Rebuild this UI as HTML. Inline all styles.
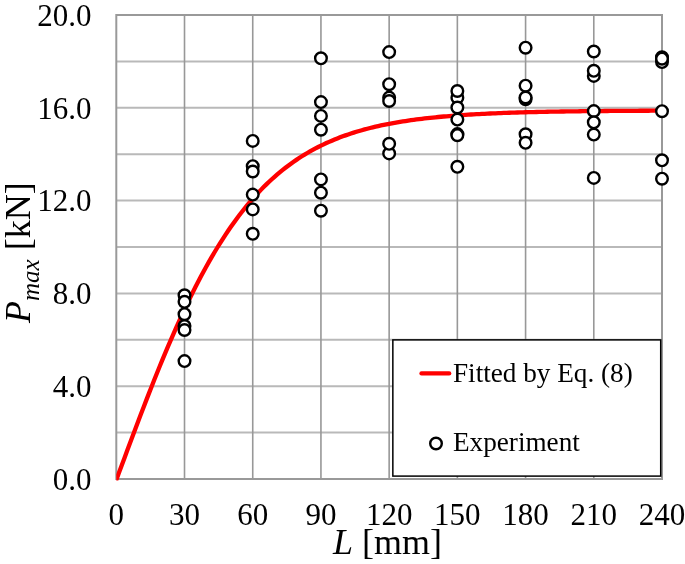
<!DOCTYPE html>
<html><head><meta charset="utf-8"><style>
html,body{margin:0;padding:0;background:#fff;width:685px;height:564px;overflow:hidden}
svg{display:block}
</style></head><body>
<svg width="685" height="564" viewBox="0 0 685 564">
<style>text{font-family:"Liberation Serif",serif}</style>
<rect width="685" height="564" fill="#fff"/>
<path d="M116.3 432.60H662.0 M116.3 386.20H662.0 M116.3 339.80H662.0 M116.3 293.40H662.0 M116.3 247.00H662.0 M116.3 200.60H662.0 M116.3 154.20H662.0 M116.3 107.80H662.0 M116.3 61.40H662.0" stroke="#b9b9b9" stroke-width="2" fill="none"/>
<path d="M184.51 15.0V479.0 M252.73 15.0V479.0 M320.94 15.0V479.0 M389.15 15.0V479.0 M457.36 15.0V479.0 M525.58 15.0V479.0 M593.79 15.0V479.0" stroke="#989898" stroke-width="1.6" fill="none"/>
<rect x="116.3" y="15.0" width="545.7" height="464.0" fill="none" stroke="#999999" stroke-width="2"/>
<defs><clipPath id="pc"><rect x="116.3" y="10" width="545.7" height="470.4"/></clipPath></defs>
<polyline clip-path="url(#pc)" points="116.30,480.00 119.03,472.62 121.76,465.25 124.49,457.89 127.21,450.55 129.94,443.23 132.67,435.94 135.40,428.68 138.13,421.46 140.86,414.29 143.59,407.17 146.31,400.11 149.04,393.11 151.77,386.17 154.50,379.30 157.23,372.51 159.96,365.79 162.68,359.16 165.41,352.61 168.14,346.16 170.87,339.79 173.60,333.52 176.33,327.35 179.06,321.28 181.78,315.32 184.51,309.45 187.24,303.70 189.97,298.05 192.70,292.52 195.43,287.09 198.16,281.78 200.88,276.58 203.61,271.49 206.34,266.52 209.07,261.66 211.80,256.91 214.53,252.28 217.25,247.76 219.98,243.35 222.71,239.05 225.44,234.86 228.17,230.79 230.90,226.82 233.63,222.95 236.35,219.20 239.08,215.54 241.81,211.99 244.54,208.55 247.27,205.20 250.00,201.95 252.73,198.79 255.45,195.73 258.18,192.76 260.91,189.89 263.64,187.10 266.37,184.40 269.10,181.78 271.82,179.25 274.55,176.80 277.28,174.42 280.01,172.13 282.74,169.91 285.47,167.76 288.20,165.68 290.92,163.67 293.65,161.73 296.38,159.86 299.11,158.05 301.84,156.30 304.57,154.61 307.30,152.98 310.02,151.41 312.75,149.89 315.48,148.42 318.21,147.01 320.94,145.65 323.67,144.33 326.39,143.06 329.12,141.84 331.85,140.66 334.58,139.52 337.31,138.43 340.04,137.37 342.77,136.35 345.49,135.37 348.22,134.43 350.95,133.52 353.68,132.64 356.41,131.79 359.14,130.98 361.87,130.20 364.59,129.44 367.32,128.72 370.05,128.02 372.78,127.35 375.51,126.70 378.24,126.07 380.96,125.47 383.69,124.90 386.42,124.34 389.15,123.81 391.88,123.29 394.61,122.80 397.34,122.32 400.06,121.86 402.79,121.42 405.52,121.00 408.25,120.59 410.98,120.19 413.71,119.82 416.44,119.45 419.16,119.10 421.89,118.77 424.62,118.45 427.35,118.13 430.08,117.84 432.81,117.55 435.53,117.27 438.26,117.01 440.99,116.75 443.72,116.51 446.45,116.27 449.18,116.04 451.91,115.82 454.63,115.61 457.36,115.41 460.09,115.22 462.82,115.03 465.55,114.85 468.28,114.68 471.01,114.51 473.73,114.35 476.46,114.20 479.19,114.05 481.92,113.91 484.65,113.78 487.38,113.65 490.10,113.52 492.83,113.40 495.56,113.28 498.29,113.17 501.02,113.07 503.75,112.96 506.48,112.86 509.20,112.77 511.93,112.68 514.66,112.59 517.39,112.50 520.12,112.42 522.85,112.34 525.58,112.27 528.30,112.20 531.03,112.13 533.76,112.06 536.49,112.00 539.22,111.94 541.95,111.88 544.67,111.82 547.40,111.77 550.13,111.71 552.86,111.66 555.59,111.61 558.32,111.57 561.05,111.52 563.77,111.48 566.50,111.44 569.23,111.40 571.96,111.36 574.69,111.32 577.42,111.29 580.14,111.26 582.87,111.22 585.60,111.19 588.33,111.16 591.06,111.13 593.79,111.11 596.52,111.08 599.24,111.05 601.97,111.03 604.70,111.00 607.43,110.98 610.16,110.96 612.89,110.94 615.62,110.92 618.34,110.90 621.07,110.88 623.80,110.86 626.53,110.85 629.26,110.83 631.99,110.81 634.72,110.80 637.44,110.78 640.17,110.77 642.90,110.76 645.63,110.74 648.36,110.73 651.09,110.72 653.81,110.71 656.54,110.70 659.27,110.69 662.00,110.68" fill="none" stroke="#ff0000" stroke-width="4.3" stroke-linejoin="round" stroke-linecap="round"/>
<circle cx="184.51" cy="295.3" r="5.8" fill="#fff" stroke="#000" stroke-width="2.4"/>
<circle cx="184.51" cy="301.8" r="5.8" fill="#fff" stroke="#000" stroke-width="2.4"/>
<circle cx="184.51" cy="314.2" r="5.8" fill="#fff" stroke="#000" stroke-width="2.4"/>
<circle cx="184.51" cy="326.0" r="5.8" fill="#fff" stroke="#000" stroke-width="2.4"/>
<circle cx="184.51" cy="330.0" r="5.8" fill="#fff" stroke="#000" stroke-width="2.4"/>
<circle cx="184.51" cy="361.1" r="5.8" fill="#fff" stroke="#000" stroke-width="2.4"/>
<circle cx="252.73" cy="140.9" r="5.8" fill="#fff" stroke="#000" stroke-width="2.4"/>
<circle cx="252.73" cy="166.2" r="5.8" fill="#fff" stroke="#000" stroke-width="2.4"/>
<circle cx="252.73" cy="171.5" r="5.8" fill="#fff" stroke="#000" stroke-width="2.4"/>
<circle cx="252.73" cy="194.6" r="5.8" fill="#fff" stroke="#000" stroke-width="2.4"/>
<circle cx="252.73" cy="209.4" r="5.8" fill="#fff" stroke="#000" stroke-width="2.4"/>
<circle cx="252.73" cy="233.8" r="5.8" fill="#fff" stroke="#000" stroke-width="2.4"/>
<circle cx="320.94" cy="58.3" r="5.8" fill="#fff" stroke="#000" stroke-width="2.4"/>
<circle cx="320.94" cy="102.1" r="5.8" fill="#fff" stroke="#000" stroke-width="2.4"/>
<circle cx="320.94" cy="115.9" r="5.8" fill="#fff" stroke="#000" stroke-width="2.4"/>
<circle cx="320.94" cy="129.7" r="5.8" fill="#fff" stroke="#000" stroke-width="2.4"/>
<circle cx="320.94" cy="179.4" r="5.8" fill="#fff" stroke="#000" stroke-width="2.4"/>
<circle cx="320.94" cy="192.7" r="5.8" fill="#fff" stroke="#000" stroke-width="2.4"/>
<circle cx="320.94" cy="210.7" r="5.8" fill="#fff" stroke="#000" stroke-width="2.4"/>
<circle cx="389.15" cy="52.1" r="5.8" fill="#fff" stroke="#000" stroke-width="2.4"/>
<circle cx="389.15" cy="84.2" r="5.8" fill="#fff" stroke="#000" stroke-width="2.4"/>
<circle cx="389.15" cy="97.6" r="5.8" fill="#fff" stroke="#000" stroke-width="2.4"/>
<circle cx="389.15" cy="101.0" r="5.8" fill="#fff" stroke="#000" stroke-width="2.4"/>
<circle cx="389.15" cy="153.4" r="5.8" fill="#fff" stroke="#000" stroke-width="2.4"/>
<circle cx="389.15" cy="143.8" r="5.8" fill="#fff" stroke="#000" stroke-width="2.4"/>
<circle cx="457.36" cy="97.8" r="5.8" fill="#fff" stroke="#000" stroke-width="2.4"/>
<circle cx="457.36" cy="91.0" r="5.8" fill="#fff" stroke="#000" stroke-width="2.4"/>
<circle cx="457.36" cy="107.5" r="5.8" fill="#fff" stroke="#000" stroke-width="2.4"/>
<circle cx="457.36" cy="119.6" r="5.8" fill="#fff" stroke="#000" stroke-width="2.4"/>
<circle cx="457.36" cy="134.1" r="5.8" fill="#fff" stroke="#000" stroke-width="2.4"/>
<circle cx="457.36" cy="135.2" r="5.8" fill="#fff" stroke="#000" stroke-width="2.4"/>
<circle cx="457.36" cy="166.8" r="5.8" fill="#fff" stroke="#000" stroke-width="2.4"/>
<circle cx="525.58" cy="47.7" r="5.8" fill="#fff" stroke="#000" stroke-width="2.4"/>
<circle cx="525.58" cy="85.7" r="5.8" fill="#fff" stroke="#000" stroke-width="2.4"/>
<circle cx="525.58" cy="99.2" r="5.8" fill="#fff" stroke="#000" stroke-width="2.4"/>
<circle cx="525.58" cy="97.5" r="5.8" fill="#fff" stroke="#000" stroke-width="2.4"/>
<circle cx="525.58" cy="134.3" r="5.8" fill="#fff" stroke="#000" stroke-width="2.4"/>
<circle cx="525.58" cy="142.8" r="5.8" fill="#fff" stroke="#000" stroke-width="2.4"/>
<circle cx="593.79" cy="51.5" r="5.8" fill="#fff" stroke="#000" stroke-width="2.4"/>
<circle cx="593.79" cy="75.9" r="5.8" fill="#fff" stroke="#000" stroke-width="2.4"/>
<circle cx="593.79" cy="70.8" r="5.8" fill="#fff" stroke="#000" stroke-width="2.4"/>
<circle cx="593.79" cy="111.1" r="5.8" fill="#fff" stroke="#000" stroke-width="2.4"/>
<circle cx="593.79" cy="122.3" r="5.8" fill="#fff" stroke="#000" stroke-width="2.4"/>
<circle cx="593.79" cy="134.6" r="5.8" fill="#fff" stroke="#000" stroke-width="2.4"/>
<circle cx="593.79" cy="177.9" r="5.8" fill="#fff" stroke="#000" stroke-width="2.4"/>
<circle cx="662.00" cy="57.3" r="5.8" fill="#fff" stroke="#000" stroke-width="2.4"/>
<circle cx="662.00" cy="62.1" r="5.8" fill="#fff" stroke="#000" stroke-width="2.4"/>
<circle cx="662.00" cy="58.7" r="5.8" fill="#fff" stroke="#000" stroke-width="2.4"/>
<circle cx="662.00" cy="111.2" r="5.8" fill="#fff" stroke="#000" stroke-width="2.4"/>
<circle cx="662.00" cy="160.3" r="5.8" fill="#fff" stroke="#000" stroke-width="2.4"/>
<circle cx="662.00" cy="178.7" r="5.8" fill="#fff" stroke="#000" stroke-width="2.4"/>
<rect x="392.85" y="339.9" width="267.85" height="136.2" fill="#fff" stroke="#000" stroke-width="1.5"/>
<path d="M421.5 373.4H449.2" stroke="#ff0000" stroke-width="4.3" stroke-linecap="round"/>
<circle cx="436" cy="443.5" r="5.8" fill="#fff" stroke="#000" stroke-width="2.4"/>
<text x="453" y="381.6" font-size="27.2">Fitted by Eq. (8)</text>
<text x="453" y="451" font-size="27.2">Experiment</text>
<text x="91.6" y="489.80" text-anchor="end" font-size="31">0.0</text>
<text x="91.6" y="397.00" text-anchor="end" font-size="31">4.0</text>
<text x="91.6" y="304.20" text-anchor="end" font-size="31">8.0</text>
<text x="91.6" y="211.40" text-anchor="end" font-size="31">12.0</text>
<text x="91.6" y="118.60" text-anchor="end" font-size="31">16.0</text>
<text x="91.6" y="25.80" text-anchor="end" font-size="31">20.0</text>
<text x="116.30" y="525.4" text-anchor="middle" font-size="31">0</text>
<text x="184.51" y="525.4" text-anchor="middle" font-size="31">30</text>
<text x="252.73" y="525.4" text-anchor="middle" font-size="31">60</text>
<text x="320.94" y="525.4" text-anchor="middle" font-size="31">90</text>
<text x="389.15" y="525.4" text-anchor="middle" font-size="31">120</text>
<text x="457.36" y="525.4" text-anchor="middle" font-size="31">150</text>
<text x="525.58" y="525.4" text-anchor="middle" font-size="31">180</text>
<text x="593.79" y="525.4" text-anchor="middle" font-size="31">210</text>
<text x="662.00" y="525.4" text-anchor="middle" font-size="31">240</text>
<text x="333" y="553.7" font-size="36"><tspan font-style="italic">L</tspan> [mm]</text>
<text transform="translate(30,323) rotate(-90)" font-size="36"><tspan font-style="italic">P</tspan><tspan font-style="italic" font-size="25" dy="9">max</tspan><tspan dy="-9"> [kN]</tspan></text>
</svg>
</body></html>
